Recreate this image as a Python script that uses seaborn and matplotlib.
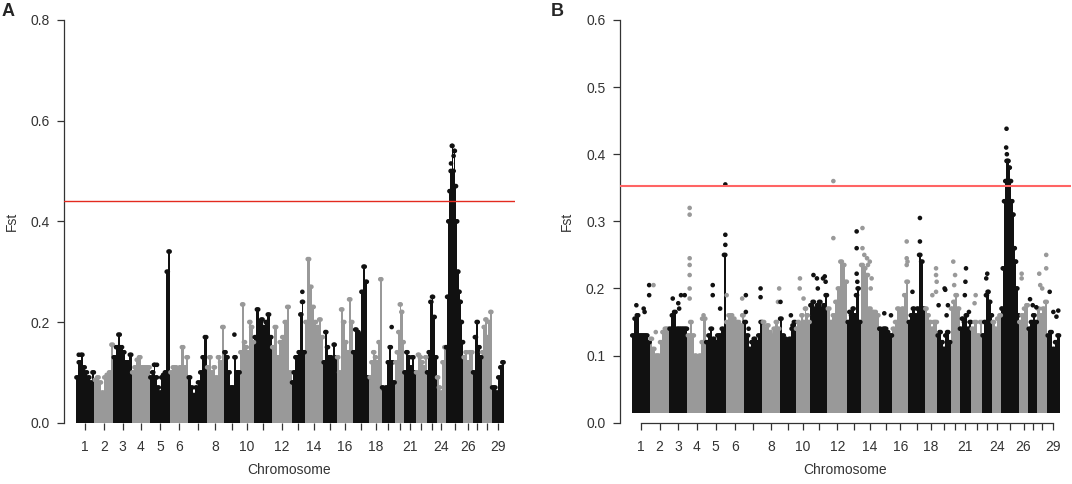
#!/usr/bin/env python
"""
  Genome-wide Fst, two comparisons (A and B), Manhattan style
"""

import numpy as np
import pandas as pd
import matplotlib
matplotlib.use('Agg')
import matplotlib.pyplot as plt
import seaborn as sns

# relative width of every chromosome on the x axis
chrom_len = [18.3, 19.0, 18.4, 18.3, 20.0, 18.3, 18.4, 17.3, 16.0, 14.3,
             17.4, 20.0, 13.3, 18.3, 13.4, 16.0, 16.6, 12.4, 13.3, 9.0,
             11.7, 11.0, 10.0, 9.0, 17.6, 9.4, 9.0, 10.0, 12.3]
tick_labels = [1, 2, 3, 4, 5, 6, 8, 10, 12, 14, 16, 18, 21, 24, 26, 29]

# panel A: upper edge of the dense point cloud along each chromosome
body_a = [
  [0.09, 0.12, 0.135, 0.11, 0.10, 0.09, 0.08, 0.10],
  [0.085, 0.09, 0.08, 0.06, 0.09, 0.095, 0.10, 0.155],
  [0.13, 0.15, 0.175, 0.15, 0.14, 0.12, 0.12, 0.135],
  [0.10, 0.11, 0.125, 0.13, 0.11, 0.11, 0.11, 0.11],
  [0.09, 0.10, 0.115, 0.09, 0.07, 0.06, 0.09, 0.095, 0.10, 0.30, 0.34],
  [0.10, 0.11, 0.11, 0.105, 0.11, 0.15, 0.11, 0.13],
  [0.09, 0.07, 0.055, 0.07, 0.08, 0.10, 0.13, 0.17],
  [0.11, 0.13, 0.10, 0.11, 0.09, 0.13, 0.12, 0.19],
  [0.14, 0.13, 0.10, 0.07, 0.07, 0.13, 0.10, 0.10],
  [0.14, 0.235, 0.16, 0.15, 0.14, 0.20, 0.19, 0.16],
  [0.17, 0.225, 0.20, 0.205, 0.19, 0.20, 0.215, 0.17],
  [0.15, 0.19, 0.13, 0.16, 0.17, 0.20, 0.23, 0.10],
  [0.08, 0.10, 0.13, 0.13, 0.14, 0.215, 0.24, 0.14],
  [0.20, 0.325, 0.27, 0.23, 0.20, 0.19, 0.205, 0.17],
  [0.12, 0.18, 0.15, 0.13, 0.13, 0.125, 0.155, 0.13],
  [0.13, 0.10, 0.225, 0.20, 0.16, 0.14, 0.245, 0.20],
  [0.14, 0.185, 0.18, 0.175, 0.26, 0.31, 0.28, 0.09],
  [0.09, 0.12, 0.14, 0.13, 0.12, 0.16, 0.285],
  [0.07, 0.065, 0.07, 0.12, 0.15, 0.12, 0.08],
  [0.12, 0.14, 0.18, 0.235, 0.22, 0.16],
  [0.10, 0.14, 0.13, 0.11, 0.13, 0.10],
  [0.10, 0.135, 0.13, 0.12, 0.11, 0.13],
  [0.10, 0.14, 0.24, 0.25, 0.21, 0.13],
  [0.09, 0.07, 0.06, 0.12, 0.15],
  [0.15, 0.25, 0.40, 0.46, 0.50, 0.55, 0.50, 0.54, 0.47, 0.40, 0.30, 0.26,
   0.24, 0.20, 0.16],
  [0.13, 0.14, 0.12, 0.14, 0.14],
  [0.10, 0.17, 0.20, 0.15, 0.13],
  [0.14, 0.19, 0.205, 0.17, 0.20, 0.22],
  [0.07, 0.07, 0.06, 0.09, 0.11, 0.12],
]
# panel A: isolated points (chromosome, position within chromosome, Fst)
out_a_chr = [9, 19, 13, 25, 25, 5, 1]
out_a_pos = [0.65, 0.75, 0.8, 0.30, 0.45, 0.35, 0.15]
out_a_fst = [0.175, 0.19, 0.26, 0.515, 0.53, 0.115, 0.135]

# panel B
body_b = [
  [0.13, 0.155, 0.16, 0.13, 0.13, 0.13, 0.13, 0.12],
  [0.125, 0.11, 0.10, 0.10, 0.12, 0.135, 0.14, 0.14],
  [0.14, 0.16, 0.165, 0.14, 0.14, 0.14, 0.14, 0.14],
  [0.13, 0.15, 0.13, 0.10, 0.095, 0.10, 0.12, 0.155],
  [0.12, 0.13, 0.14, 0.125, 0.12, 0.13, 0.13, 0.14, 0.25],
  [0.15, 0.16, 0.16, 0.155, 0.15, 0.15, 0.145, 0.16],
  [0.15, 0.13, 0.11, 0.12, 0.125, 0.12, 0.13, 0.15],
  [0.15, 0.14, 0.145, 0.135, 0.13, 0.14, 0.15, 0.14],
  [0.155, 0.13, 0.125, 0.12, 0.125, 0.14, 0.15],
  [0.14, 0.15, 0.145, 0.16, 0.15, 0.17, 0.16, 0.15],
  [0.175, 0.18, 0.17, 0.175, 0.18, 0.17, 0.175, 0.19],
  [0.17, 0.15, 0.16, 0.18, 0.20, 0.24, 0.235, 0.21],
  [0.15, 0.165, 0.16, 0.17, 0.16, 0.19, 0.20, 0.15],
  [0.235, 0.23, 0.22, 0.17, 0.165, 0.165, 0.16],
  [0.14, 0.135, 0.14, 0.14, 0.135, 0.13, 0.13],
  [0.14, 0.15, 0.17, 0.165, 0.17, 0.19, 0.21],
  [0.15, 0.16, 0.17, 0.16, 0.17, 0.25, 0.24, 0.17],
  [0.17, 0.16, 0.15, 0.14, 0.15, 0.15],
  [0.13, 0.135, 0.12, 0.11, 0.13, 0.135, 0.12],
  [0.17, 0.18, 0.19, 0.17],
  [0.14, 0.155, 0.15, 0.16, 0.14, 0.15],
  [0.14, 0.15, 0.13, 0.15],
  [0.13, 0.15, 0.19, 0.195, 0.18, 0.16],
  [0.15, 0.14, 0.155, 0.16],
  [0.17, 0.23, 0.33, 0.36, 0.39, 0.39, 0.38, 0.36, 0.33, 0.31, 0.26, 0.24,
   0.20, 0.16],
  [0.15, 0.16, 0.17, 0.175],
  [0.14, 0.15, 0.16, 0.15],
  [0.17, 0.16, 0.17, 0.18],
  [0.13, 0.135, 0.11, 0.12, 0.13],
]
out_b_chr = [1, 1, 1, 1, 1, 2, 2, 3, 3, 3, 3, 3,
             4, 4, 4, 4, 4, 4, 4, 4, 4,
             5, 5, 5, 5, 5, 5, 6, 6, 7, 7, 7, 7, 7, 8, 8, 9, 9, 9,
             10, 10, 10, 11, 11, 11, 11, 11, 11, 12, 12, 13, 13, 13, 13,
             14, 14, 14, 14, 14, 14, 14, 14, 15, 15, 16, 16, 16, 16,
             17, 17, 17, 18, 18, 18, 18, 18, 19, 19, 19, 19, 19,
             20, 20, 20, 21, 21, 21, 21, 22, 22, 23, 23, 25, 25, 25,
             26, 26, 27, 27, 27, 28, 28, 28, 28, 28, 29, 29, 29, 29]
out_b_pos = [0.25, 0.65, 0.70, 0.95, 0.95, 0.18, 0.30, 0.20, 0.50, 0.55, 0.65, 0.85,
             0.12, 0.12, 0.12, 0.12, 0.12, 0.12, 0.12, 0.80, 0.88,
             0.35, 0.35, 0.72, 0.98, 0.98, 0.98, 0.05, 0.90, 0.10, 0.10, 0.25, 0.90, 0.90,
             0.97, 0.90, 0.05, 0.70, 0.80,
             0.30, 0.28, 0.55, 0.20, 0.40, 0.45, 0.75, 0.85, 0.90, 0.30, 0.30,
             0.70, 0.70, 0.70, 0.75,
             0.10, 0.10, 0.20, 0.35, 0.40, 0.50, 0.60, 0.55, 0.40, 0.90,
             0.90, 0.90, 0.95, 0.90, 0.25, 0.70, 0.70, 0.60, 0.90, 0.90, 0.95, 0.90,
             0.10, 0.55, 0.60, 0.80, 0.70, 0.30, 0.50, 0.40, 0.55, 0.50, 0.45, 0.80,
             0.40, 0.30, 0.50, 0.40, 0.30, 0.28, 0.32,
             0.30, 0.30, 0.20, 0.50, 0.90, 0.20, 0.30, 0.50, 0.90, 0.90,
             0.20, 0.50, 0.90, 0.75]
out_b_fst = [0.175, 0.17, 0.165, 0.205, 0.19, 0.205, 0.135, 0.185, 0.178, 0.17, 0.19, 0.19,
             0.32, 0.31, 0.245, 0.235, 0.22, 0.20, 0.185, 0.155, 0.16,
             0.205, 0.19, 0.17, 0.355, 0.28, 0.265, 0.19, 0.185, 0.19, 0.165, 0.14,
             0.20, 0.187, 0.20, 0.18, 0.18, 0.16, 0.145,
             0.215, 0.20, 0.185, 0.22, 0.215, 0.20, 0.215, 0.218, 0.21, 0.36, 0.275,
             0.285, 0.26, 0.222, 0.21,
             0.29, 0.26, 0.25, 0.245, 0.235, 0.24, 0.215, 0.20, 0.163, 0.16,
             0.27, 0.245, 0.24, 0.235, 0.195, 0.305, 0.27, 0.19, 0.23, 0.22, 0.21, 0.195,
             0.175, 0.20, 0.198, 0.175, 0.16, 0.24, 0.22, 0.205, 0.23, 0.21, 0.19, 0.165,
             0.19, 0.178, 0.222, 0.215, 0.438, 0.41, 0.40,
             0.222, 0.215, 0.184, 0.175, 0.172, 0.222, 0.205, 0.20, 0.25, 0.23,
             0.195, 0.165, 0.167, 0.158]

thresh_a = 0.44
thresh_b = 0.352

DARK = "#111111"
LIGHT = "#999999"
AXIS = "#333333"

W, H = 1072, 484


def chrom_starts():
  return np.concatenate([[0.0], np.cumsum(chrom_len)[:-1]])


def draw_panel(ax, body, base, o_chr, o_pos, o_fst):
  starts = chrom_starts()
  tops = []
  for i, vals in enumerate(body):
    colour = DARK if i % 2 == 0 else LIGHT
    n = len(vals)
    edges = starts[i] + np.arange(n + 1) * chrom_len[i] / n
    ax.fill_between(edges, base, list(vals) + [vals[-1]], step="post",
                    color=colour, linewidth=0, zorder=2)
    # dots along the top of each column give the rough, dotted outline
    for j, v in enumerate(vals):
      for f in (0.2, 0.8):
        tops.append([edges[j] + f * (edges[j + 1] - edges[j]), v, i % 2])
  for c, p, v in zip(o_chr, o_pos, o_fst):
    tops.append([starts[c - 1] + p * chrom_len[c - 1], v, (c - 1) % 2])
  df = pd.DataFrame(tops, columns=["pos", "fst", "shade"])
  sns.scatterplot(data=df, x="pos", y="fst", hue="shade",
                  palette={0: DARK, 1: LIGHT}, s=11, linewidth=0,
                  legend=False, ax=ax, zorder=3)


def style_panel(ax, ymax, ystep, with_baseline):
  starts = chrom_starts()
  centres = starts + np.array(chrom_len) / 2
  ax.set_xlim(-12.3, 439)
  ax.set_ylim(0, ymax)
  ax.set_xticks(centres)
  ax.set_xticklabels([str(k) if k in tick_labels else "" for k in range(1, 30)])
  yt = np.arange(0, ymax + 1e-9, ystep)
  ax.set_yticks(yt)
  ax.set_yticklabels([f"{v:.1f}" for v in yt])
  for s in ("top", "right"):
    ax.spines[s].set_visible(False)
  ax.spines["left"].set_color(AXIS)
  ax.spines["left"].set_linewidth(0.9)
  if with_baseline:
    ax.spines["bottom"].set_bounds(centres[0], centres[-1])
    ax.spines["bottom"].set_color(AXIS)
    ax.spines["bottom"].set_linewidth(0.9)
  else:
    ax.spines["bottom"].set_visible(False)
  ax.tick_params(axis="both", direction="out", length=5.2, width=0.9,
                 color=AXIS, labelcolor=AXIS, labelsize=10)
  ax.tick_params(axis="x", pad=7.5)
  ax.tick_params(axis="y", pad=5)
  ax.set_xlabel("Chromosome", fontsize=10, color=AXIS)
  ax.set_ylabel("Fst", fontsize=10, color=AXIS)
  ax.grid(False)


def main():
  sns.set_style("ticks")
  plt.rcParams["font.family"] = ["Liberation Sans", "DejaVu Sans"]

  fig = plt.figure(figsize=(W / 100, H / 100), dpi=100)
  bottom = 1 - 422.7 / H
  height = (422.7 - 20) / H
  ax_a = fig.add_axes([63.7 / W, bottom, (515 - 63.7) / W, height])
  ax_b = fig.add_axes([619.5 / W, bottom, (1070.5 - 619.5) / W, height])

  draw_panel(ax_a, body_a, 0.0, out_a_chr, out_a_pos, out_a_fst)
  draw_panel(ax_b, body_b, 0.015, out_b_chr, out_b_pos, out_b_fst)

  ax_a.axhline(thresh_a, color="#e32a1f", linewidth=1.0, zorder=4)
  ax_b.axhline(thresh_b, color="#ff6464", linewidth=1.5, zorder=4)

  style_panel(ax_a, 0.8, 0.2, False)
  style_panel(ax_b, 0.6, 0.1, True)

  for ax in (ax_a, ax_b):
    ax.xaxis.set_label_coords(0.5, -(470 - 422.7) / 402.7)
    ax.xaxis.label.set_va("center")
    ax.yaxis.label.set_va("center")
  ax_a.yaxis.set_label_coords((12 - 63.7) / 451.3, 0.5)
  ax_b.yaxis.set_label_coords((566.7 - 619.5) / 451.0, 0.5)

  fig.text(2 / W, 1 - 3 / H, "A", fontsize=13, fontweight="bold", va="top", ha="left")
  fig.text(551 / W, 1 - 3 / H, "B", fontsize=13, fontweight="bold", va="top", ha="left")

  fig.savefig("out.png", dpi=100)


if __name__ == "__main__":
  main()
